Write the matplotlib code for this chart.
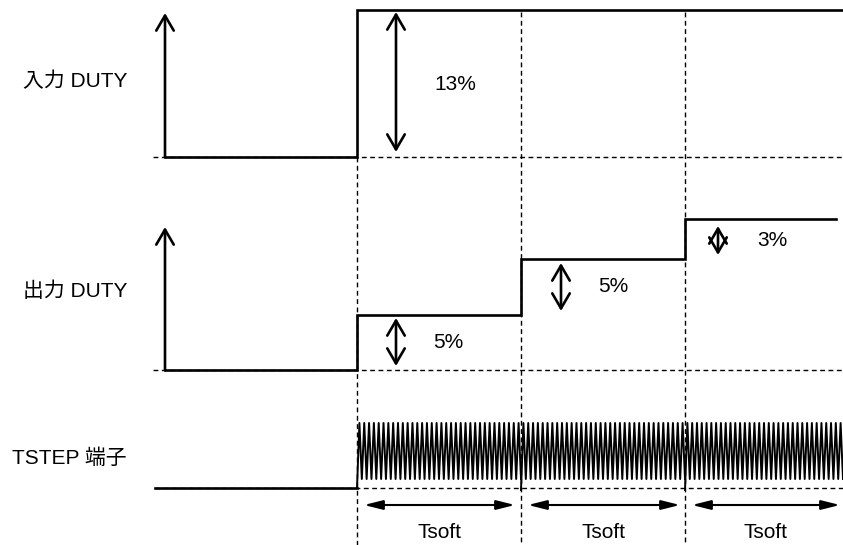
import numpy as np
from matplotlib import pyplot as plt

# time marks (px along the drawing) and signal levels (px, y grows downward)
t_start = 165
t_steps = [357, 521, 685]
t_end = 843

in_low, in_high = 157, 10
out_levels = [370, 315, 259, 219]
out_end = 836

pulse_base = 488
pulse_top, pulse_bottom = 423, 479
pulses_per_tsoft = [34, 34, 33]

labels = ['入力 DUTY', '出力 DUTY', 'TSTEP 端子']
label_y = [81, 291, 458]
step_text = ['13%', '5%', '5%', '3%']
step_arrow_x = [396, 396, 561, 718]
step_arrow_y = [(12, 152), (318, 366), (263, 311), (226, 255)]
step_text_xy = [(455, 85), (448, 342), (613, 287), (772, 240)]
tsoft_spans = [(364, 515), (528, 680), (692, 840)]

plt.rcParams['font.family'] = ['Liberation Sans', 'Noto Sans CJK JP']

fig = plt.figure(figsize=(8.43, 5.45), dpi=100)
ax = fig.add_axes([0, 0, 1, 1])
ax.set_xlim(0, 843)
ax.set_ylim(545, 0)
ax.axis('off')

dash = dict(color='black', lw=1.0, dashes=(3.5, 2.5))
sig = dict(color='black', lw=1.9, solid_joinstyle='miter')

# dashed guides
ax.plot([153, t_end], [in_low, in_low], **dash)
ax.plot([153, t_end], [out_levels[0], out_levels[0]], **dash)
ax.plot([155, t_end], [pulse_base, pulse_base], **dash)
ax.plot([t_steps[0], t_steps[0]], [in_low, 545], **dash)
for t in t_steps[1:]:
    ax.plot([t, t], [in_high + 2, 545], **dash)

# vertical axis arrows
for y0, y1 in [(in_low, 13), (out_levels[0], 227)]:
    ax.annotate('', xy=(t_start, y1), xytext=(t_start, y0),
                arrowprops=dict(arrowstyle='->,head_length=0.6,head_width=0.35',
                                lw=1.9, color='black', mutation_scale=18,
                                shrinkA=0, shrinkB=0))

# input duty
ax.plot([t_start, t_steps[0], t_steps[0], t_end],
        [in_low, in_low, in_high, in_high], **sig)

# output duty
xs = [t_start]
ys = [out_levels[0]]
for t, y_prev, y_next in zip(t_steps, out_levels[:-1], out_levels[1:]):
    xs += [t, t]
    ys += [y_prev, y_next]
xs.append(out_end)
ys.append(out_levels[-1])
ax.plot(xs, ys, **sig)

# TSTEP pin
ax.plot([155, t_steps[0]], [pulse_base, pulse_base], **sig)
seg_bounds = t_steps + [t_end]
for i, n in enumerate(pulses_per_tsoft):
    a, b = seg_bounds[i], seg_bounds[i + 1]
    px = np.linspace(a, b, 2 * n + 1)
    py = np.where(np.arange(2 * n + 1) % 2 == 0, pulse_bottom, pulse_top).astype(float)
    py[0] = pulse_base if i == 0 else pulse_base + 2
    ax.plot(px, py, color='black', lw=1.4)

# step size arrows
for x, (y0, y1), txt, (tx, ty) in zip(step_arrow_x, step_arrow_y, step_text, step_text_xy):
    ax.annotate('', xy=(x, y0), xytext=(x, y1),
                arrowprops=dict(arrowstyle='<->,head_length=0.6,head_width=0.35',
                                lw=1.9, color='black', mutation_scale=18,
                                shrinkA=0, shrinkB=0))
    ax.text(tx, ty, txt, fontsize=15, ha='center', va='center')

# Tsoft arrows
for a, b in tsoft_spans:
    ax.annotate('', xy=(a, 505), xytext=(b, 505),
                arrowprops=dict(arrowstyle='<|-|>,head_length=0.8,head_width=0.2',
                                lw=1.5, color='black', mutation_scale=14,
                                shrinkA=0, shrinkB=0))
    ax.text((a + b) / 2, 532, 'Tsoft', fontsize=15, ha='center', va='center')

# signal names
for txt, y in zip(labels, label_y):
    ax.text(127, y, txt, fontsize=15, ha='right', va='center')

fig.savefig('out.png', dpi=100)
